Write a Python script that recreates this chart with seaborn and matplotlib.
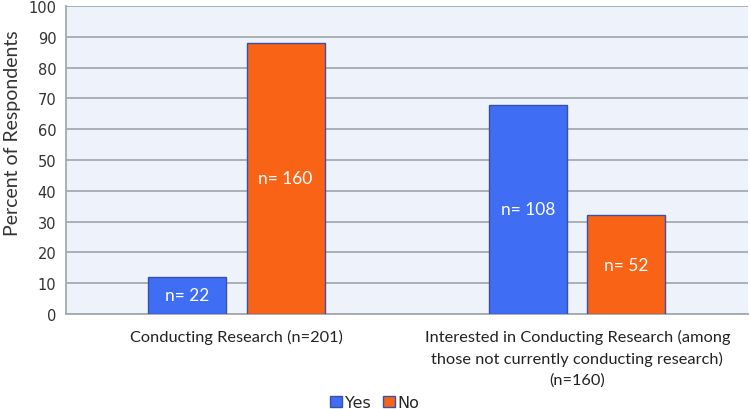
import pandas as pd
import matplotlib.pyplot as plt
import seaborn as sns
from matplotlib.patches import Patch

categories = [
    "Conducting Research (n=201)",
    "Interested in Conducting Research (among\nthose not currently conducting research)\n(n=160)",
]
answers = ["Yes", "No"]
yes_pct = [12, 68]
no_pct = [88, 32]
yes_n = [22, 108]
no_n = [160, 52]

df = pd.DataFrame({
    "category": categories * 2,
    "answer": ["Yes"] * len(categories) + ["No"] * len(categories),
    "percent": yes_pct + no_pct,
    "n": yes_n + no_n,
})

colors = {"Yes": "#3F6EF4", "No": "#F96316"}
edge = "#3A4FA8"

sns.set_style("white")
plt.rcParams["font.family"] = ["DejaVu Sans"]

fig = plt.figure(figsize=(7.5, 4.1), dpi=100)
ax = fig.add_axes([0.088, 0.232, 0.909, 0.751])
ax.set_facecolor("#EEF2FB")

sns.barplot(data=df, x="category", y="percent", hue="answer", hue_order=answers,
            palette=colors, saturation=1, width=0.576, gap=0.205, edgecolor=edge,
            linewidth=1, legend=False, ax=ax, zorder=3)

# n labels inside bars
for container, ns in zip(ax.containers, [yes_n, no_n]):
    for bar, n in zip(container, ns):
        ax.text(bar.get_x() + bar.get_width() / 2, bar.get_height() / 2,
                f"n= {n}", ha="center", va="center", color="white",
                fontsize=12.5, family="Lato", zorder=4)

ax.set_ylim(0, 100)
ax.set_xlim(-0.5, 1.5)
ax.set_yticks(range(0, 101, 10))
ax.yaxis.grid(True, color="#A3AAB0", linewidth=1.3, zorder=0)
ax.set_axisbelow(True)
ax.tick_params(axis="y", length=0, labelsize=10.5, labelcolor="#333333", pad=7)
ax.tick_params(axis="x", length=0, labelsize=11.8, labelcolor="#222222", pad=11)
for lbl in ax.get_xticklabels():
    lbl.set_family("Lato")
    lbl.set_linespacing(1.55)

ax.set_xlabel("")
ax.set_ylabel("Percent of Respondents", fontsize=14, color="#333333", family="Lato")
ax.yaxis.set_label_coords(-0.066, 0.59)

for side in ["top", "right"]:
    ax.spines[side].set_visible(False)
for side in ["left", "bottom"]:
    ax.spines[side].set_color("#A3AAB0")
    ax.spines[side].set_linewidth(1.3)

handles = [Patch(facecolor=colors[a], edgecolor=edge, label=a) for a in answers]
fig.legend(handles=handles, loc="lower center", bbox_to_anchor=(0.5, -0.038), ncol=2,
           frameon=False, fontsize=11.5, handlelength=0.7, handleheight=0.7,
           handletextpad=0.2, columnspacing=0.8)

fig.savefig("out.png", dpi=100)
